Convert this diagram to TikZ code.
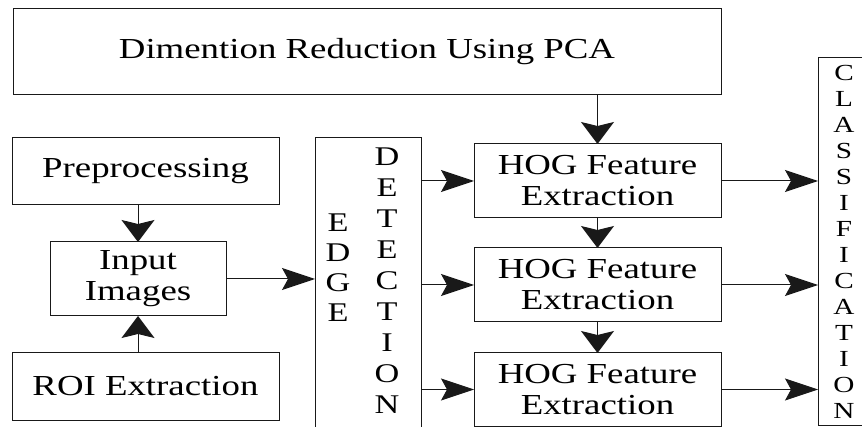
\documentclass[tikz,border=0pt]{standalone}
\usepackage{fontspec}
\setmainfont{Liberation Serif}[FakeStretch=1.27]
\usetikzlibrary{arrows.meta}
\begin{document}
\begin{tikzpicture}[x=1pt,y=-1pt,
  box/.style={draw=black!90, line width=1pt, inner sep=0pt, outer sep=0pt,
    align=center, font=\fontsize{29}{31}\selectfont},
  harrow/.style={draw=black!90, line width=1pt,
    -{Stealth[length=33pt,width=22pt,inset=6pt]}},
  varrow/.style={draw=black!90, line width=1pt,
    -{Stealth[length=22pt,width=33pt,inset=4pt]}},
  letters/.style={inner sep=0pt, outer sep=0pt, align=center}]
\useasboundingbox (0,0) rectangle (862,427);
\clip (0,0) rectangle (862,427);

% processing blocks
\node[box, minimum width=708pt, minimum height=86pt] (pca) at (367,52)
  {Dimention Reduction Using PCA};
\node[box, minimum width=267pt, minimum height=67pt] (pre) at (145.5,171.5)
  {Preprocessing};
\node[box, minimum width=176pt, minimum height=74pt] (in) at (138,279)
  {Input\\Images};
\node[box, minimum width=267pt, minimum height=67pt] (roi) at (145.5,386.5)
  {ROI Extraction};
\node[box, minimum width=106pt, minimum height=302pt] (edge) at (368,289) {};
\node[box, minimum width=247pt, minimum height=74pt] (hog1) at (597.5,181)
  {HOG Feature\\Extraction};
\node[box, minimum width=247pt, minimum height=74pt] (hog2) at (597.5,285)
  {HOG Feature\\Extraction};
\node[box, minimum width=247pt, minimum height=73pt] (hog3) at (597.5,389.5)
  {HOG Feature\\Extraction};
\node[box, minimum width=62pt, minimum height=367pt] (cls) at (849,241.5) {};

% vertical lettering
\node[letters, font=\fontsize{27}{30}\selectfont] (edgeword) at (338,268)
  {E\\D\\G\\E};
\node[letters, font=\fontsize{27}{31}\selectfont] (detword) at (387,281)
  {D\\E\\T\\E\\C\\T\\I\\O\\N};
\node[letters, font=\fontsize{23}{26}\selectfont] (clsword) at (844,241.5)
  {C\\L\\A\\S\\S\\I\\F\\I\\C\\A\\T\\I\\O\\N};

% connectors
\draw[varrow] (pre.south -| in.north) -- (in.north);
\draw[varrow] (roi.north -| in.south) -- (in.south);
\draw[harrow] (in.east) -- (edge.west |- in.east);
\draw[varrow] (pca.south -| hog1.north) -- (hog1.north);
\draw[varrow] (hog1.south) -- (hog2.north);
\draw[varrow] (hog2.south) -- (hog3.north);
\draw[harrow] (edge.east |- hog1.west) -- (hog1.west);
\draw[harrow] (edge.east |- hog2.west) -- (hog2.west);
\draw[harrow] (edge.east |- hog3.west) -- (hog3.west);
\draw[harrow] (hog1.east) -- (cls.west |- hog1.east);
\draw[harrow] (hog2.east) -- (cls.west |- hog2.east);
\draw[harrow] (hog3.east) -- (cls.west |- hog3.east);
\end{tikzpicture}
\end{document}
